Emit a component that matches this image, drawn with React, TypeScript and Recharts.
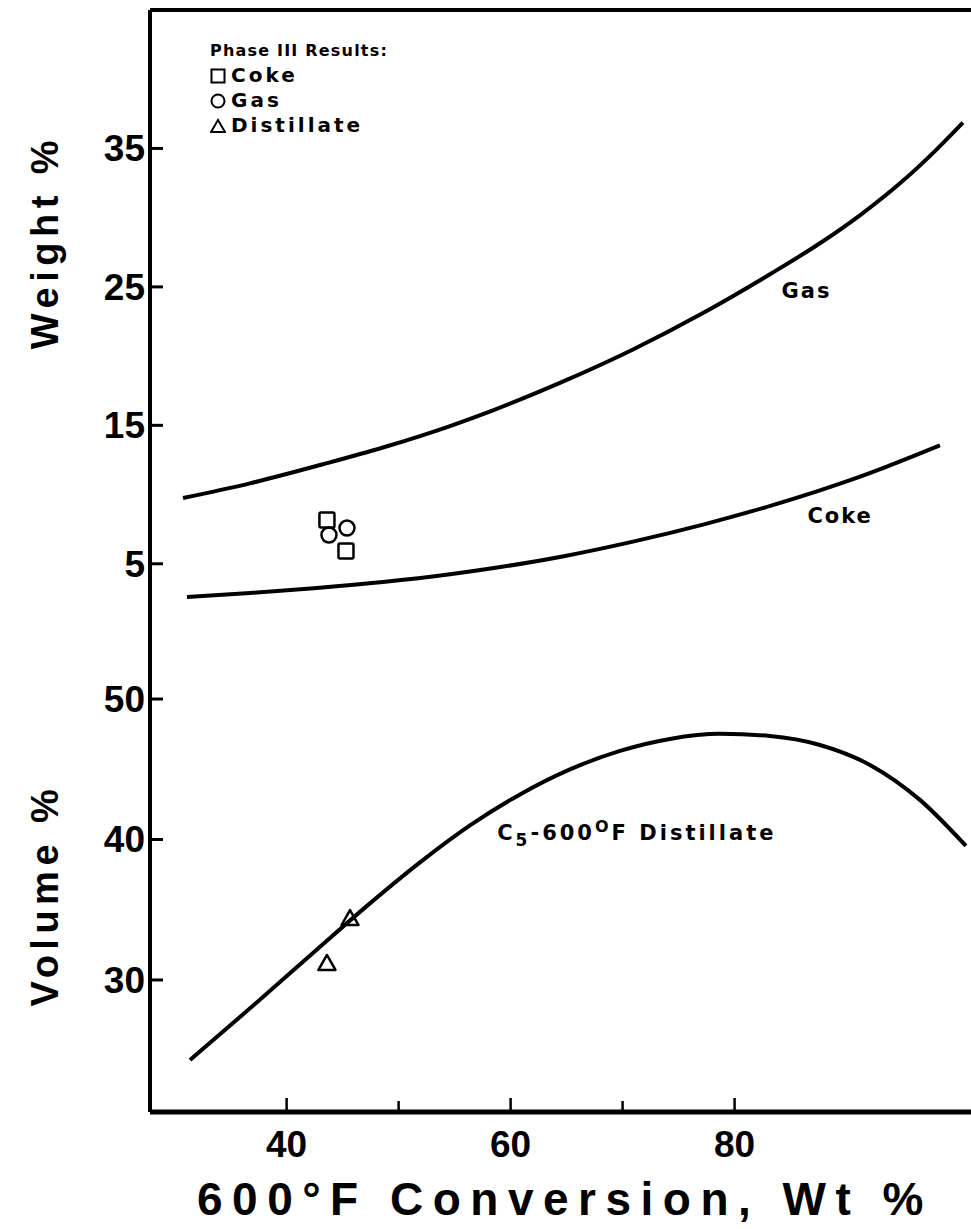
import React from 'react';
import { ComposedChart, Line, Scatter, XAxis, YAxis, ReferenceLine, ReferenceDot } from 'recharts';

// x axis: 600°F conversion, wt %
const conversionTicks = [40, 50, 60, 70, 80];
const labelledConversion = [40, 60, 80];
const weightTicks = [5, 15, 25, 35];
const volumeTicks = [30, 40, 50];

// correlation curves (upper panel, weight %)
const gasConversion = [30.75, 36.73, 43.25, 48.6, 54.59, 58.6, 64.76, 70.93, 77.18, 83.34, 87.62, 91.19, 94.77, 97.89, 100.39];
const gasWeight = [9.75, 10.81, 12.19, 13.4, 14.95, 16.14, 18.19, 20.48, 23.11, 26.0, 28.15, 30.17, 32.48, 34.81, 36.87];
const cokeConversion = [31.1, 36.73, 42.71, 48.6, 54.59, 58.51, 64.76, 70.93, 77.18, 83.34, 87.62, 90.57, 93.6, 98.34];
const cokeWeight = [2.6, 2.89, 3.25, 3.68, 4.24, 4.69, 5.55, 6.6, 7.83, 9.22, 10.3, 11.11, 12.02, 13.55];

// correlation curve (lower panel, volume %)
const distConversion = [31.37, 36.73, 42.71, 47.44, 51.91, 56.37, 60.84, 65.3, 69.77, 74.23, 78.69, 83.16, 87.62, 92.09, 96.55, 100.66];
const distVolume = [24.3, 27.98, 32.17, 35.45, 38.37, 41.0, 43.21, 44.99, 46.31, 47.16, 47.52, 47.37, 46.73, 45.31, 42.82, 39.54];

// Phase III results
const cokeResultConv = [43.6, 45.3];
const cokeResultWt = [8.16, 5.92];
const gasResultConv = [43.78, 45.39];
const gasResultWt = [7.08, 7.58];
const distResultConv = [43.6, 45.66];
const distResultVol = [31.21, 34.41];

// curve label anchors [conversion, value]
const gasLabelAt = [84.2, 24.2];
const cokeLabelAt = [86.5, 7.95];
const distLabelAt = [58.8, 39.96];

const zip = (xs: number[], ys: number[]) => xs.map((x, i) => ({ x, y: ys[i] }));

const FONT = '"Liberation Sans", Arial, sans-serif';
const WIDE = '"DejaVu Sans", "Liberation Sans", sans-serif';
const INK = '#000';

const YTick = (props: any) => {
  const { x, y, payload } = props;
  return (
    <g>
      <line x1={x} x2={x + 13} y1={y} y2={y} stroke={INK} strokeWidth={3} />
      <text x={x - 5} y={y + 13} textAnchor="end" fontSize={37} fontWeight="bold" fontFamily={FONT} fill={INK}>
        {payload.value}
      </text>
    </g>
  );
};

const XTick = (props: any) => {
  const { x, y, payload } = props;
  const lab = labelledConversion.includes(payload.value);
  return (
    <g>
      <line x1={x} x2={x} y1={y} y2={y - (lab ? 14 : 11)} stroke={INK} strokeWidth={2.5} />
      {lab && (
        <text x={x} y={y + 45} textAnchor="middle" fontSize={37} fontWeight="bold" fontFamily={FONT} fill={INK}>
          {payload.value}
        </text>
      )}
    </g>
  );
};

const Square = (props: any) => (
  <rect x={props.cx - 7.5} y={props.cy - 7.5} width={15} height={15} rx={1.5} fill="none" stroke={INK} strokeWidth={2.5} />
);
const Circle = (props: any) => <circle cx={props.cx} cy={props.cy} r={7.5} fill="none" stroke={INK} strokeWidth={2.5} />;
const Triangle = (props: any) => (
  <path
    d={`M${props.cx},${props.cy - 8} L${props.cx + 8.5},${props.cy + 7} L${props.cx - 8.5},${props.cy + 7} Z`}
    fill="none"
    stroke={INK}
    strokeWidth={2.5}
    strokeLinejoin="round"
  />
);

const curveLabel = (text: string) => (props: any) => {
  const { viewBox } = props;
  return (
    <text x={viewBox.x} y={viewBox.y} fontSize={21} fontWeight="bold" fontFamily={WIDE} letterSpacing={2} fill={INK}>
      {text}
    </text>
  );
};

const distLabel = (props: any) => {
  const { viewBox } = props;
  return (
    <text x={viewBox.x} y={viewBox.y} fontSize={21} fontWeight="bold" fontFamily={WIDE} letterSpacing={3} fill={INK}>
      C<tspan fontSize={17} dy={6}>5</tspan>
      <tspan dy={-6}>-600</tspan>
      <tspan fontSize={16} dy={-8}>O</tspan>
      <tspan dy={8}>F  Distillate</tspan>
    </text>
  );
};

const axisTitle = { fontSize: 38, fontWeight: 'bold' as const, fontFamily: FONT, letterSpacing: 5.5, fill: INK };

const LegendMark = ({ kind }: { kind: string }) => (
  <svg width={16} height={16} style={{ marginRight: 5, verticalAlign: -2 }}>
    {kind === 'square' && <rect x={1.5} y={1.5} width={13} height={13} fill="none" stroke={INK} strokeWidth={2} />}
    {kind === 'circle' && <circle cx={8} cy={8} r={6.5} fill="none" stroke={INK} strokeWidth={2} />}
    {kind === 'triangle' && <path d="M8,2 L15,14 L1,14 Z" fill="none" stroke={INK} strokeWidth={2} />}
  </svg>
);

export default function App() {
  const W = 972;
  const xDomain = [27.8, 101.2];
  return (
    <div style={{ position: 'absolute', left: 0, top: 0, width: 971, height: 1229, overflow: 'hidden', background: '#fff' }}>
      <div style={{ position: 'absolute', left: 0, top: 0 }}>
        <ComposedChart width={W} height={636} margin={{ top: 10, right: 0, bottom: 3, left: 0 }}>
          <XAxis
            type="number"
            dataKey="x"
            domain={xDomain}
            height={0}
            tick={false}
            tickLine={false}
            axisLine={{ stroke: INK, strokeWidth: 5 }}
          />
          <YAxis
            type="number"
            dataKey="y"
            domain={[0, 45]}
            ticks={weightTicks}
            width={150}
            tickSize={0}
            tickMargin={0}
            tickLine={false}
            tick={<YTick />}
            axisLine={{ stroke: INK, strokeWidth: 4 }}
            label={{
              content: () => (
                <text x={58} y={242} transform="rotate(-90 58 242)" textAnchor="middle" {...axisTitle}>
                  Weight %
                </text>
              ),
            }}
          />
          <ReferenceLine y={45} stroke={INK} strokeWidth={4} />
          <Line data={zip(gasConversion, gasWeight)} dataKey="y" type="monotone" stroke={INK} strokeWidth={4} dot={false} isAnimationActive={false} />
          <Line data={zip(cokeConversion, cokeWeight)} dataKey="y" type="monotone" stroke={INK} strokeWidth={4} dot={false} isAnimationActive={false} />
          <Scatter data={zip(cokeResultConv, cokeResultWt)} shape={<Square />} isAnimationActive={false} />
          <Scatter data={zip(gasResultConv, gasResultWt)} shape={<Circle />} isAnimationActive={false} />
          <ReferenceDot x={gasLabelAt[0]} y={gasLabelAt[1]} r={0} stroke="none" label={{ content: curveLabel('Gas') }} />
          <ReferenceDot x={cokeLabelAt[0]} y={cokeLabelAt[1]} r={0} stroke="none" label={{ content: curveLabel('Coke') }} />
        </ComposedChart>
      </div>

      <div
        style={{
          position: 'absolute',
          left: 210,
          top: 38,
          fontFamily: WIDE,
          fontWeight: 'bold',
          color: INK,
          lineHeight: '25px',
        }}
      >
        <div style={{ fontSize: 16, letterSpacing: 1.2 }}>Phase III Results:</div>
        <div style={{ fontSize: 20, letterSpacing: 3 }}>
          <LegendMark kind="square" />Coke
        </div>
        <div style={{ fontSize: 20, letterSpacing: 3 }}>
          <LegendMark kind="circle" />Gas
        </div>
        <div style={{ fontSize: 20, letterSpacing: 3 }}>
          <LegendMark kind="triangle" />Distillate
        </div>
      </div>

      <div style={{ position: 'absolute', left: 0, top: 633 }}>
        <ComposedChart width={W} height={596} margin={{ top: 0, right: 0, bottom: 0, left: 0 }}>
          <XAxis
            type="number"
            dataKey="x"
            domain={xDomain}
            ticks={conversionTicks}
            height={117}
            tickSize={0}
            tickMargin={0}
            tickLine={false}
            tick={<XTick />}
            axisLine={{ stroke: INK, strokeWidth: 5 }}
            label={{
              content: () => (
                <text x={565} y={582} textAnchor="middle" {...axisTitle} fontSize={46} letterSpacing={9.5}>
                  600°F Conversion, Wt %
                </text>
              ),
            }}
          />
          <YAxis
            type="number"
            dataKey="y"
            domain={[20.6, 54.7]}
            ticks={volumeTicks}
            width={150}
            tickSize={0}
            tickMargin={0}
            tickLine={false}
            tick={<YTick />}
            axisLine={{ stroke: INK, strokeWidth: 4 }}
            label={{
              content: () => (
                <text x={58} y={262} transform="rotate(-90 58 262)" textAnchor="middle" {...axisTitle}>
                  Volume %
                </text>
              ),
            }}
          />
          <Line data={zip(distConversion, distVolume)} dataKey="y" type="monotone" stroke={INK} strokeWidth={4} dot={false} isAnimationActive={false} />
          <Scatter data={zip(distResultConv, distResultVol)} shape={<Triangle />} isAnimationActive={false} />
          <ReferenceDot x={distLabelAt[0]} y={distLabelAt[1]} r={0} stroke="none" label={{ content: distLabel }} />
        </ComposedChart>
      </div>
    </div>
  );
}
